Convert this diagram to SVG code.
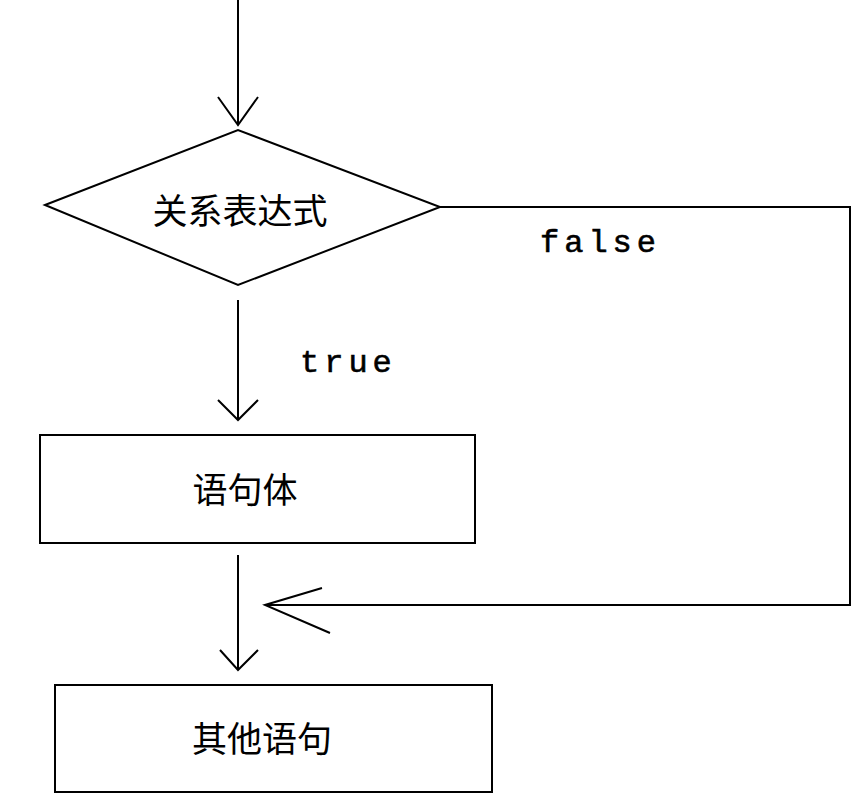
<svg xmlns="http://www.w3.org/2000/svg" width="859" height="805" viewBox="0 0 859 805">
<style>
.l{fill:none;stroke:#000;stroke-width:2}
.c{font-family:"Noto Sans CJK SC","Noto Sans",sans-serif;font-size:35px;text-anchor:middle}
.m{font-family:"Liberation Mono",monospace;font-size:32px;letter-spacing:5px;stroke:#000;stroke-width:0.6}
</style>
<rect width="859" height="805" fill="#fff"/>
<g id="connectors">
<path class="l" d="M238 0V125M218 97L238 125L258 97"/>
<path class="l" d="M238 300V420M218 400L238 420L258 400"/>
<path class="l" d="M238 555V670M220 650L238 670L258 650"/>
<path class="l" d="M440 207H850V605H265M322 588L265 605L330 633"/>
<text class="m" x="540" y="252">false</text>
<text class="m" x="300" y="372">true</text>
</g>
<g id="cond"><path class="l" d="M45 205L238 130L440 207L238 285Z"/><text class="c" x="240" y="224">关系表达式</text></g>
<g id="body"><rect class="l" x="40" y="435" width="435" height="108"/><text class="c" x="245" y="503">语句体</text></g>
<g id="other"><rect class="l" x="55" y="685" width="437" height="107"/><text class="c" x="262" y="752">其他语句</text></g>
</svg>
